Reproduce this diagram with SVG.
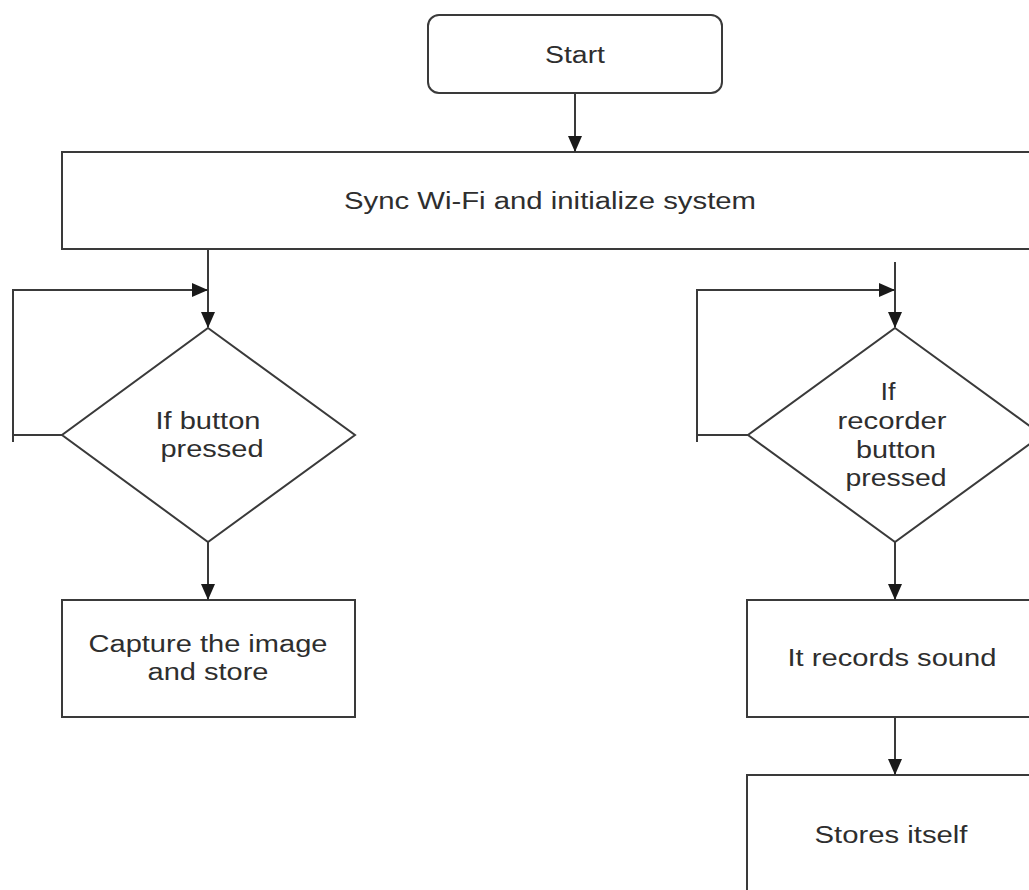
<svg xmlns="http://www.w3.org/2000/svg" width="1029" height="890" viewBox="0 0 1029 890">
<style>
.n{fill:#fff;stroke:#3a3a3a;stroke-width:2}
.c{fill:none;stroke:#3a3a3a;stroke-width:2}
text{font-family:"Liberation Sans",Arial,sans-serif;font-size:23px;fill:#2e2e2e;text-anchor:middle}
</style>
<defs>
<marker id="a" markerWidth="16" markerHeight="14" refX="15" refY="7" orient="auto" markerUnits="userSpaceOnUse"><path d="M0,0 L16,7 L0,14 Z" fill="#1a1a1a"/></marker>
</defs>
<rect width="1029" height="890" fill="#fff"/>
<g id="start"><rect class="n" x="428" y="15" width="294" height="78" rx="11"/><text x="575" y="63" textLength="60" lengthAdjust="spacingAndGlyphs">Start</text></g>
<g id="sync"><rect class="n" x="62" y="152" width="990" height="97"/><text x="550" y="209" textLength="412" lengthAdjust="spacingAndGlyphs">Sync Wi-Fi and initialize system</text></g>
<g id="d1"><polygon class="n" points="208,328 355,435 208,542 62,435"/><text x="208" y="429" textLength="105" lengthAdjust="spacingAndGlyphs">If button</text><text x="212" y="457" textLength="103" lengthAdjust="spacingAndGlyphs">pressed</text></g>
<g id="capture"><rect class="n" x="62" y="600" width="293" height="117"/><text x="208" y="652" textLength="239" lengthAdjust="spacingAndGlyphs">Capture the image</text><text x="208" y="680" textLength="121" lengthAdjust="spacingAndGlyphs">and store</text></g>
<g id="d2"><polygon class="n" points="895,328 1042,435 895,542 748,435"/><text x="888" y="400" textLength="15" lengthAdjust="spacingAndGlyphs">If</text><text x="892" y="429" textLength="109" lengthAdjust="spacingAndGlyphs">recorder</text><text x="896" y="458" textLength="80" lengthAdjust="spacingAndGlyphs">button</text><text x="896" y="486" textLength="101" lengthAdjust="spacingAndGlyphs">pressed</text></g>
<g id="record"><rect class="n" x="747" y="600" width="300" height="117"/><text x="892" y="666" textLength="209" lengthAdjust="spacingAndGlyphs">It records sound</text></g>
<g id="stores"><rect class="n" x="747" y="775" width="300" height="130"/><text x="891" y="843" textLength="153" lengthAdjust="spacingAndGlyphs">Stores itself</text></g>
<g id="connectors">
<line class="c" x1="575" y1="93" x2="575" y2="151" marker-end="url(#a)"/>
<line class="c" x1="208" y1="249" x2="208" y2="327" marker-end="url(#a)"/>
<polyline class="c" points="62,435 13,435 13,290 207,290" marker-end="url(#a)"/>
<line class="c" x1="13" y1="435" x2="13" y2="442"/>
<line class="c" x1="208" y1="542" x2="208" y2="599" marker-end="url(#a)"/>
<line class="c" x1="895" y1="262" x2="895" y2="327" marker-end="url(#a)"/>
<polyline class="c" points="748,435 697,435 697,290 894,290" marker-end="url(#a)"/>
<line class="c" x1="697" y1="435" x2="697" y2="442"/>
<line class="c" x1="895" y1="542" x2="895" y2="599" marker-end="url(#a)"/>
<line class="c" x1="895" y1="717" x2="895" y2="774" marker-end="url(#a)"/>
</g>
</svg>
